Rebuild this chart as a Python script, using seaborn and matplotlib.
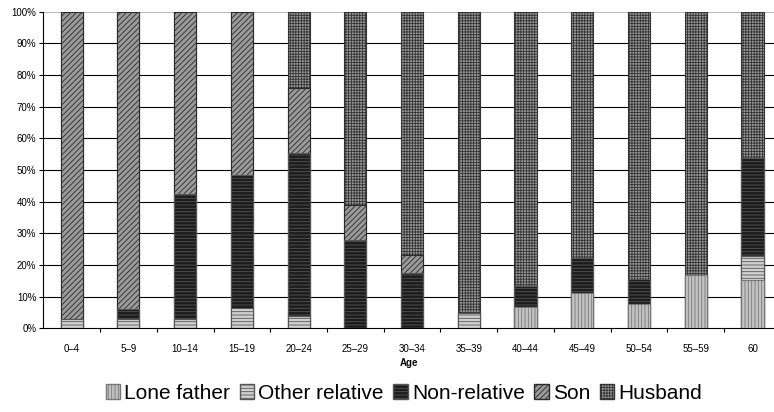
import numpy as np
import pandas as pd
import matplotlib
matplotlib.use('Agg')
import matplotlib.pyplot as plt
from matplotlib.patches import Patch
from matplotlib.ticker import FixedLocator
import seaborn as sns

# data (percent of each age group)
ages = ["0–4", "5–9", "10–14", "15–19", "20–24", "25–29", "30–34",
        "35–39", "40–44", "45–49", "50–54", "55–59", "60"]
lone_father = [0, 0, 0, 0, 0, 0, 0, 0, 6.6, 11.1, 7.6, 16.7, 15.3]
other_relative = [2.8, 2.8, 2.8, 6.3, 3.9, 0, 0, 4.7, 0, 0, 0, 0, 7.5]
non_relative = [0, 3.3, 39.5, 42.1, 51.6, 27.9, 17.6, 0, 6.8, 11.0, 8.0, 0, 31.1]
son = [97.2, 93.9, 57.7, 51.6, 20.5, 11.0, 5.7, 0, 0, 0, 0, 0, 0]
husband = [0, 0, 0, 0, 24.0, 61.1, 76.7, 95.3, 86.6, 77.9, 84.4, 83.3, 46.1]

series = ["Lone father", "Other relative", "Non-relative", "Son", "Husband"]
values = [lone_father, other_relative, non_relative, son, husband]
styles = {
    "Lone father": dict(fc="#c4c4c4", ec="#777777", hatch="|||||"),
    "Other relative": dict(fc="#d0d0d0", ec="#555555", hatch="-----"),
    "Non-relative": dict(fc="#1c1c1c", ec="#555555", hatch="-----"),
    "Son": dict(fc="#9a9a9a", ec="#2a2a2a", hatch="//////"),
    "Husband": dict(fc="#999999", ec="#333333", hatch="++++++"),
}

df = pd.DataFrame(dict(zip(series, values)), index=ages)
cum = df.cumsum(axis=1)

plt.rcParams['font.family'] = ['Liberation Sans', 'DejaVu Sans']
plt.rcParams['hatch.linewidth'] = 0.6

fig = plt.figure(figsize=(7.74, 4.12), dpi=100)
ax = fig.add_axes([0.056, 0.203, 0.944, 0.769])

# draw cumulative totals from the top layer down so lower layers sit on top
for name in reversed(series):
    st = styles[name]
    d = pd.DataFrame({"age": ages, "val": cum[name].values})
    sns.barplot(data=d, x="age", y="val", ax=ax, width=0.39,
                color=st["fc"], edgecolor=st["ec"], linewidth=0.8,
                hatch=st["hatch"], zorder=3)

ax.set_ylim(0, 100)
ax.set_xlim(-0.5, 12.38)
ax.set_yticks(np.arange(0, 101, 10))
ax.set_yticklabels([f"{v}%" for v in range(0, 101, 10)], fontsize=7)
for v in range(10, 100, 10):
    ax.axhline(v, color="black", lw=0.8, zorder=1)
ax.axhline(100, color="#bbbbbb", lw=1.5, zorder=1)

for s in ["top", "right"]:
    ax.spines[s].set_visible(False)
ax.spines["left"].set_linewidth(0.8)
ax.spines["bottom"].set_linewidth(0.8)

ax.tick_params(axis="y", length=3, width=0.8, pad=2)
ax.tick_params(axis="x", which="major", length=0, labelsize=7, pad=11)
ax.xaxis.set_minor_locator(FixedLocator(np.arange(0.5, 12, 1)))
ax.tick_params(axis="x", which="minor", length=3, width=0.8, direction="out")
ax.set_xlabel("Age", fontsize=7, fontweight="bold", labelpad=3)
ax.set_ylabel("")

handles = [Patch(facecolor=styles[n]["fc"], edgecolor=styles[n]["ec"],
                 hatch=styles[n]["hatch"], label=n) for n in series]
fig.legend(handles=handles, loc="center", bbox_to_anchor=(0.522, 0.046),
           ncol=5, frameon=False, fontsize=15, handlelength=0.7,
           handleheight=0.7, handletextpad=0.2, columnspacing=0.45)

fig.savefig("out.png", dpi=100)
